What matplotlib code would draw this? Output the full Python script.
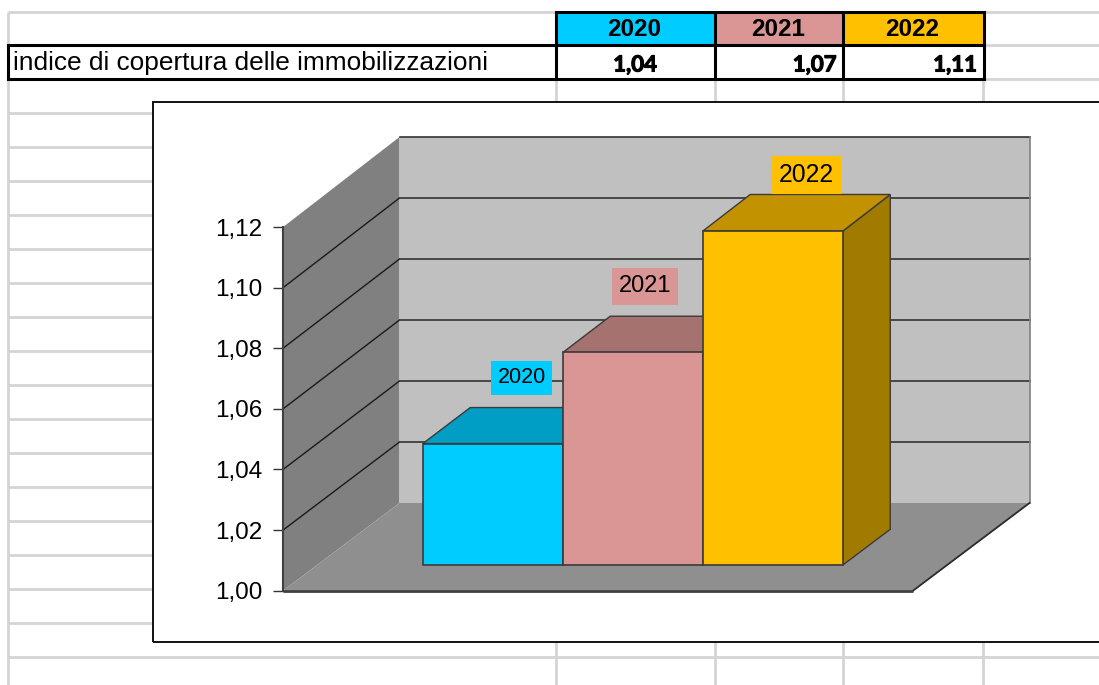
import matplotlib
matplotlib.use("Agg")
import matplotlib.pyplot as plt
import matplotlib.patheffects as pe
from matplotlib.patches import Polygon, Rectangle

plt.rcParams['font.family'] = ['Liberation Sans', 'DejaVu Sans']

years = ["2020", "2021", "2022"]
values = [1.04, 1.07, 1.11]
value_labels = ["1,04", "1,07", "1,11"]
row_title = "indice di copertura delle immobilizzazioni"
y_ticks = [1.00, 1.02, 1.04, 1.06, 1.08, 1.10, 1.12]
y_tick_labels = ["1,00", "1,02", "1,04", "1,06", "1,08", "1,10", "1,12"]

front_colors = ["#00CCFF", "#D99694", "#FFC000"]
top_colors = ["#009DC4", "#A6726F", "#C29200"]
side_colors = ["#0080A0", "#8A5F5D", "#A17B00"]

W, H = 1099, 685
fig = plt.figure(figsize=(W / 100, H / 100), dpi=100)
fig.patch.set_facecolor("white")

# ---------- spreadsheet layer (pixel coordinates) ----------
sh = fig.add_axes([0, 0, 1, 1])
sh.set_xlim(0, W)
sh.set_ylim(H, 0)
sh.axis("off")
GRID = "#D4D4D4"
GLW = 2.0
for y in [12, 45, 79]:
    sh.plot([984, W], [y, y], color=GRID, lw=GLW, solid_capstyle="butt")
sh.plot([8, 556], [12, 12], color=GRID, lw=GLW, solid_capstyle="butt")
for y in range(113, 640, 34):
    sh.plot([8, 153], [y, y], color=GRID, lw=GLW, solid_capstyle="butt")
sh.plot([8, W], [657, 657], color=GRID, lw=GLW, solid_capstyle="butt")
sh.plot([8, 8], [12, H], color=GRID, lw=GLW, solid_capstyle="butt")
for x in [556, 715, 842.5, 983]:
    sh.plot([x, x], [79, 102], color=GRID, lw=GLW, solid_capstyle="butt")
    sh.plot([x, x], [642, H], color=GRID, lw=GLW, solid_capstyle="butt")

cols = [556, 715, 843, 983.5]
for i, c in enumerate(front_colors):
    sh.add_patch(Rectangle((cols[i], 12), cols[i + 1] - cols[i], 33, fc=c, ec="none", zorder=2))
TB = 2.2
for x in cols:
    sh.plot([x, x], [11, 79.5], color="black", lw=TB, zorder=3, solid_capstyle="butt")
sh.plot([556, cols[-1]], [12, 12], color="black", lw=TB, zorder=3)
sh.plot([8, cols[-1]], [45, 45], color="black", lw=TB, zorder=3)
sh.plot([8, cols[-1]], [79, 79], color="black", lw=TB, zorder=3)
sh.plot([8, 8], [44, 80], color="black", lw=TB, zorder=3, solid_capstyle="butt")

sh.text(13, 63, row_title, fontsize=18.9, ha="left", va="center", color="black", zorder=4)
for i, yr in enumerate(years):
    sh.text((cols[i] + cols[i + 1]) / 2 - 1, 29, yr, fontsize=17.5, fontweight="bold",
            ha="center", va="center", zorder=4)
heavy = [pe.withStroke(linewidth=0.8, foreground="black")]
value_font = dict(fontsize=16, fontweight="bold", family="Lato", va="center", zorder=4,
                  path_effects=heavy)
sh.text(635, 65, value_labels[0], ha="center", **value_font)
sh.text(836.5, 65, value_labels[1], ha="right", **value_font)
sh.text(977, 65, value_labels[2], ha="right", **value_font)

# ---------- chart layer ----------
L, R, T, B = 153, W, 102, 642
ax = fig.add_axes([L / W, 1 - B / H, (R - L) / W, (B - T) / H])

PX_VAL = 3030.0       # pixels per value unit
PX_CAT = 140.0        # pixels per category
FLOOR_PX = 590.7      # pixel y of value 1.00 on the front plane
X_LEFT_PX = 283.0     # pixel x of the front-left corner
X_MIN_CAT = -1.255    # category coordinate of that corner
ax.set_xlim(X_MIN_CAT - (X_LEFT_PX - L) / PX_CAT, X_MIN_CAT + (R - X_LEFT_PX) / PX_CAT)
ax.set_ylim(1.0 - (B - FLOOR_PX) / PX_VAL, 1.0 + (FLOOR_PX - T) / PX_VAL)
ax.patch.set_facecolor("white")

DX = 116.5 / PX_CAT   # full-depth shift, in categories
DY = 87.7 / PX_VAL    # full-depth shift, in values
PERSP = 0.0066        # the back plane is drawn very slightly larger
X0, X1 = X_MIN_CAT, X_MIN_CAT + 4.5
V0, V1 = y_ticks[0], y_ticks[-1]


def pr(x, v, d=0.0):
    return (x + DX * d, v + DY * d + (v - V0) * PERSP * d)


# walls and floor
ax.add_patch(Polygon([pr(X0, V0, 1), pr(X1, V0, 1), pr(X1, V1, 1), pr(X0, V1, 1)],
                     fc="#C0C0C0", ec="none", zorder=1))
ax.add_patch(Polygon([pr(X0, V0, 0), pr(X0, V0, 1), pr(X0, V1, 1), pr(X0, V1, 0)],
                     fc="#808080", ec="none", zorder=1))
ax.add_patch(Polygon([pr(X0, V0, 0), pr(X1, V0, 0), pr(X1, V0, 1), pr(X0, V0, 1)],
                     fc="#8F8F8F", ec="none", zorder=1))

# gridlines
for v in y_ticks[1:]:
    if v < V1:
        ax.plot(*zip(pr(X0, v, 0), pr(X0, v, 1)), color="#1A1A1A", lw=1.0, zorder=2)
    ax.plot(*zip(pr(X0, v, 1), pr(X1, v, 1)), color="#333333", lw=1.2, zorder=2)
ax.plot(*zip(pr(X1, V0, 1), pr(X1, V1, 1)), color="#808080", lw=1.2, zorder=2)
ax.plot(*zip(pr(X1, V0, 0), pr(X1, V0, 1)), color="#2A2A2A", lw=1.3, zorder=2)
ax.plot(*zip(pr(X0, V0, 0), pr(X1, V0, 0)), color="#404040", lw=2.0, zorder=2,
        solid_capstyle="butt")

# bars
D0, D1 = 0.293, 0.70
BW = 1.0
EDGE = "#3A3A3A"
label_offsets = [(29, 66), (12, 66), (33, 56)]
label_sizes = [15.5, 17, 17.8]
for i, v in enumerate(values):
    xl, xr = i - BW / 2, i + BW / 2
    ax.add_patch(Polygon([pr(xr, V0, D0), pr(xr, V0, D1), pr(xr, v, D1), pr(xr, v, D0)],
                         fc=side_colors[i], ec=EDGE, lw=1.0, zorder=3 + i))
    ax.add_patch(Polygon([pr(xl, v, D0), pr(xr, v, D0), pr(xr, v, D1), pr(xl, v, D1)],
                         fc=top_colors[i], ec=EDGE, lw=1.0, zorder=3 + i))
    ax.add_patch(Polygon([pr(xl, V0, D0), pr(xr, V0, D0), pr(xr, v, D0), pr(xl, v, D0)],
                         fc=front_colors[i], ec=EDGE, lw=1.2, zorder=3 + i))
    ax.annotate(years[i], xy=pr(i, v, D0), xytext=label_offsets[i], textcoords="offset pixels",
                ha="center", va="center", fontsize=label_sizes[i], color="black", zorder=10,
                bbox=dict(boxstyle="square,pad=0.3", fc=front_colors[i], ec="none"))

# y axis on the front-left edge
for s in ["top", "right", "bottom"]:
    ax.spines[s].set_visible(False)
ax.spines["left"].set_position(("data", X0))
ax.spines["left"].set_bounds(V0, V1)
ax.spines["left"].set_color("#404040")
ax.spines["left"].set_linewidth(1.5)
ax.spines["left"].set_zorder(5)
ax.set_xticks([])
ax.set_yticks(y_ticks)
ax.set_yticklabels(y_tick_labels, fontsize=17.5, color="black")
ax.tick_params(axis="y", length=7, width=1.0, color="#333333", pad=8)

# chart frame
ax.add_patch(Rectangle((0, 0), 1.02, 1, transform=ax.transAxes, fill=False, ec="#111111",
                       lw=1.4, clip_on=False, zorder=20))

fig.savefig("out.png", dpi=100)
